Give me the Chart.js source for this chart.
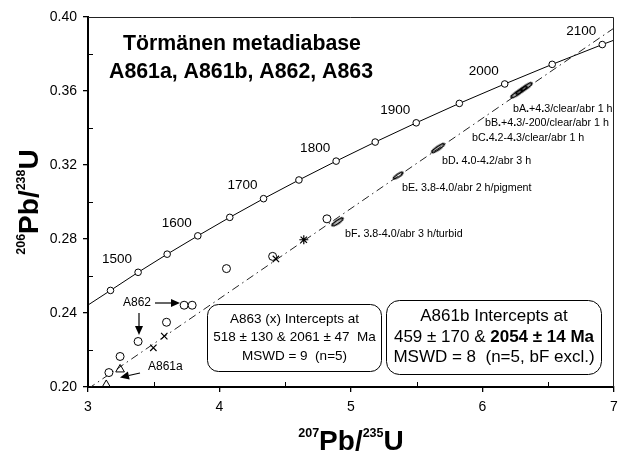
<!DOCTYPE html>
<html><head><meta charset="utf-8">
<script src="https://cdn.jsdelivr.net/npm/chart.js@4/dist/chart.umd.min.js"></script>
<style>html,body{margin:0;padding:0;background:#fff}#wrap{width:620px;height:452px;position:relative}</style>
</head><body><div id="wrap"><canvas id="c" width="620" height="452"></canvas></div>
<script>
// ---------- data ----------
const xTicks = [3, 4, 5, 6, 7];
const yTicks = [0.20, 0.24, 0.28, 0.32, 0.36, 0.40];
const xMinor = [3.5, 4.5, 5.5, 6.5];
const yMinor = [0.22, 0.26, 0.30, 0.34, 0.38];

// concordia tick marks (Ma) and their ratios
const concordiaAges = [1450, 1500, 1550, 1600, 1650, 1700, 1750, 1800, 1850, 1900, 1950, 2000, 2050, 2100];
const concordiaX = [3.171, 3.381, 3.602, 3.835, 4.078, 4.335, 4.604, 4.887, 5.184, 5.496, 5.824, 6.169, 6.530, 6.911];
const concordiaY = [0.2522, 0.2620, 0.2718, 0.2817, 0.2917, 0.3018, 0.3119, 0.3221, 0.3324, 0.3428, 0.3533, 0.3638, 0.3744, 0.3851];
const concordiaEndX = [3.000, 7.000];
const concordiaEndY = [0.2443, 0.3875];
const labeledAges = [1500, 1600, 1700, 1800, 1900, 2000, 2100];

// discordia line
const discordiaX = [3.0, 7.0];
const discordiaY = [0.1990, 0.3940];

// A862 (open circles)
const a862X = [3.159, 3.244, 3.381, 3.597, 3.731, 3.792, 4.053, 4.404, 4.817];
const a862Y = [0.2078, 0.2165, 0.2246, 0.2350, 0.2442, 0.2442, 0.2640, 0.2706, 0.2909];
// A861a (triangles)
const a861aX = [3.244, 3.139];
const a861aY = [0.2095, 0.2011];
// A863 (x)
const a863X = [3.497, 3.580, 4.429];
const a863Y = [0.2212, 0.2275, 0.2692];
const a863StarX = [4.641];
const a863StarY = [0.2796];
// A861b fractions (error ellipses)
const a861bNames = ['bA', 'bB', 'bC', 'bD', 'bE', 'bF'];
const a861bX = [6.335, 6.297, 6.259, 5.662, 5.359, 4.898];
const a861bY = [0.3623, 0.3604, 0.3585, 0.3291, 0.3143, 0.2892];
const a861bLabels = ['bA.+4.3/clear/abr 1 h', 'bB.+4.3/-200/clear/abr 1 h', 'bC.4.2-4.3/clear/abr 1 h',
                     'bD. 4.0-4.2/abr 3 h', 'bE. 3.8-4.0/abr 2 h/pigment', 'bF. 3.8-4.0/abr 3 h/turbid'];

// ---------- helpers ----------
const FAM = "'Liberation Sans', Arial, Helvetica, sans-serif";
const pts = (xs, ys) => xs.map((x, i) => ({x: x, y: ys[i]}));

function ellipseCanvas(len, wid) {
  const c = document.createElement('canvas');
  c.width = Math.ceil(len + 4); c.height = Math.ceil(wid + 4);
  const g = c.getContext('2d');
  g.strokeStyle = '#000'; g.lineWidth = 1.6;
  g.beginPath(); g.ellipse(c.width / 2, c.height / 2, len / 2, wid / 2, 0, 0, Math.PI * 2); g.stroke();
  return c;
}
const ellipseStyles = [ellipseCanvas(13, 3.2), ellipseCanvas(13, 3.2), ellipseCanvas(13, 3.2),
                       ellipseCanvas(15, 3.2), ellipseCanvas(11, 3), ellipseCanvas(13, 3.2)];

function drawRich(ctx, segs, x, y, align) {
  let w = 0;
  segs.forEach(s => { ctx.font = s.font; w += ctx.measureText(s.t).width; });
  let cx = align === 'center' ? x - w / 2 : x;
  ctx.textAlign = 'left';
  segs.forEach(s => { ctx.font = s.font; ctx.fillText(s.t, cx, y + (s.dy || 0)); cx += ctx.measureText(s.t).width; });
}
function dottedSegs(text, size) {
  const segs = [];
  text.split(/(\.)/).forEach(p => {
    if (!p) return;
    segs.push({t: p, font: (p === '.' ? 'bold ' : '') + size + 'px ' + FAM});
  });
  return segs;
}
function roundBox(ctx, x1, y1, x2, y2, r) {
  ctx.beginPath();
  ctx.moveTo(x1 + r, y1);
  ctx.arcTo(x2, y1, x2, y2, r);
  ctx.arcTo(x2, y2, x1, y2, r);
  ctx.arcTo(x1, y2, x1, y1, r);
  ctx.arcTo(x1, y1, x2, y1, r);
  ctx.closePath();
  ctx.fillStyle = '#fff'; ctx.fill();
  ctx.strokeStyle = '#000'; ctx.lineWidth = 1; ctx.stroke();
}
function arrow(ctx, x1, y1, x2, y2) {
  const a = Math.atan2(y2 - y1, x2 - x1), hl = 9, hw = 4;
  const bx = x2 - hl * Math.cos(a), by = y2 - hl * Math.sin(a);
  ctx.strokeStyle = '#000'; ctx.lineWidth = 1.2;
  ctx.beginPath(); ctx.moveTo(x1, y1); ctx.lineTo(bx, by); ctx.stroke();
  ctx.fillStyle = '#000';
  ctx.beginPath(); ctx.moveTo(x2, y2);
  ctx.lineTo(bx + hw * Math.sin(a), by - hw * Math.cos(a));
  ctx.lineTo(bx - hw * Math.sin(a), by + hw * Math.cos(a));
  ctx.closePath(); ctx.fill();
}
function axisTitle(ctx, parts, cx, cy, rot) {
  const big = 'bold 28px ' + FAM, small = 'bold 12.5px ' + FAM;
  let w = 0;
  parts.forEach(p => { ctx.font = p.sup ? small : big; w += ctx.measureText(p.t).width; });
  ctx.save();
  ctx.translate(cx, cy); ctx.rotate(rot);
  ctx.fillStyle = '#000'; ctx.textBaseline = 'alphabetic'; ctx.textAlign = 'left';
  let x = -w / 2;
  parts.forEach(p => {
    ctx.font = p.sup ? small : big;
    ctx.fillText(p.t, x, p.sup ? -3 : 10);
    x += ctx.measureText(p.t).width;
  });
  ctx.restore();
}

const deco = {
  id: 'deco',
  afterDatasetsDraw(chart) {
    const ctx = chart.ctx, xs = chart.scales.x, ys = chart.scales.y, a = chart.chartArea;
    ctx.save();
    // frame top/right
    ctx.strokeStyle = '#222'; ctx.lineWidth = 1;
    ctx.beginPath(); ctx.moveTo(a.left, a.top + 0.5); ctx.lineTo(a.right - 0.5, a.top + 0.5); ctx.lineTo(a.right - 0.5, a.bottom); ctx.stroke();
    // minor ticks (inside)
    ctx.strokeStyle = '#000'; ctx.lineWidth = 1;
    xMinor.forEach(v => { const p = Math.round(xs.getPixelForValue(v)) + 0.5; ctx.beginPath(); ctx.moveTo(p, a.bottom); ctx.lineTo(p, a.bottom - 5); ctx.stroke(); });
    yMinor.forEach(v => { const p = Math.round(ys.getPixelForValue(v)) + 0.5; ctx.beginPath(); ctx.moveTo(a.left, p); ctx.lineTo(a.left + 5, p); ctx.stroke(); });

    ctx.fillStyle = '#000';
    ctx.textBaseline = 'middle';
    // title
    ctx.textAlign = 'center';
    ctx.font = 'bold 21.3px ' + FAM;
    ctx.fillText('Törmänen metadiabase', 242, 44);
    ctx.fillText('A861a, A861b, A862, A863', 241, 72);
    // concordia age labels
    ctx.font = '13.5px ' + FAM;
    labeledAges.forEach(age => {
      const i = concordiaAges.indexOf(age);
      const px = xs.getPixelForValue(concordiaX[i]), py = ys.getPixelForValue(concordiaY[i]);
      ctx.fillText(String(age), px - 21, py - 13);
    });
    // fraction labels
    const labPos = [[513, 109], [485, 123.5], [472, 138], [442, 161], [402, 188.5], [345, 234]];
    a861bLabels.forEach((t, i) => drawRich(ctx, dottedSegs(t, 10.7), labPos[i][0], labPos[i][1], 'left'));
    // sample labels + arrows
    ctx.textAlign = 'center';
    ctx.font = '12px ' + FAM;
    ctx.fillText('A862', 137, 303);
    ctx.textAlign = 'left';
    ctx.fillText('A861a', 148, 367);
    arrow(ctx, 155, 303, 180, 303);
    arrow(ctx, 139, 313, 139, 335);
    arrow(ctx, 140, 373, 120, 377.5);
    // boxes
    roundBox(ctx, 207.5, 304.5, 381.5, 371.5, 11);
    ctx.fillStyle = '#000'; ctx.textAlign = 'center';
    ctx.font = '13.5px ' + FAM;
    ctx.fillText('A863 (x) Intercepts at', 294.5, 319);
    ctx.fillText('518 ± 130 & 2061 ± 47  Ma', 294.5, 337.5);
    ctx.fillText('MSWD = 9  (n=5)', 294.5, 356);
    roundBox(ctx, 386.5, 300.5, 601.5, 374.5, 13);
    ctx.fillStyle = '#000';
    ctx.font = '17px ' + FAM;
    ctx.fillText('A861b Intercepts at', 494, 316);
    drawRich(ctx, [{t: '459 ± 170 & ', font: '17px ' + FAM}, {t: '2054 ± 14 Ma', font: 'bold 17px ' + FAM}], 494, 337, 'center');
    ctx.textAlign = 'center';
    ctx.font = '17px ' + FAM;
    ctx.fillText('MSWD = 8  (n=5, bF excl.)', 494, 357);
    // axis titles
    axisTitle(ctx, [{t: '207', sup: true}, {t: 'Pb/'}, {t: '235', sup: true}, {t: 'U'}], (a.left + a.right) / 2, 440, 0);
    axisTitle(ctx, [{t: '206', sup: true}, {t: 'Pb/'}, {t: '238', sup: true}, {t: 'U'}], 28, (a.top + a.bottom) / 2, -Math.PI / 2);
    ctx.restore();
  }
};

const concordiaLine = pts([concordiaEndX[0]].concat(concordiaX, [concordiaEndX[1]]),
                          [concordiaEndY[0]].concat(concordiaY, [concordiaEndY[1]]));

new Chart(document.getElementById('c'), {
  type: 'scatter',
  data: {datasets: [
    {label: 'A861b', data: pts(a861bX, a861bY), pointStyle: ellipseStyles, rotation: -34.4, pointRadius: 3, order: 1},
    {label: 'A863', data: pts(a863X, a863Y), pointStyle: 'crossRot', pointRadius: 4.5, borderColor: '#000', borderWidth: 1.2, order: 1},
    {label: 'A863b', data: pts(a863StarX, a863StarY), pointStyle: 'star', pointRadius: 4.5, borderColor: '#000', borderWidth: 1.2, order: 1},
    {label: 'A861a', data: pts(a861aX, a861aY), pointStyle: 'triangle', pointRadius: 5, backgroundColor: 'rgba(255,255,255,0)', borderColor: '#000', borderWidth: 1, order: 1},
    {label: 'A862', data: pts(a862X, a862Y), pointStyle: 'circle', pointRadius: 4, backgroundColor: '#fff', borderColor: '#000', borderWidth: 1, order: 1},
    {label: 'ages', data: pts(concordiaX, concordiaY), pointStyle: 'circle', pointRadius: 3.3, backgroundColor: '#fff', borderColor: '#000', borderWidth: 1, order: 0},
    {label: 'concordia', data: concordiaLine, showLine: true, pointRadius: 0, borderColor: '#000', borderWidth: 1, order: 5},
    {label: 'discordia', data: pts(discordiaX, discordiaY), showLine: true, pointRadius: 0, borderColor: '#222', borderWidth: 1, borderDash: [8, 4, 1.5, 4], order: 5}
  ]},
  options: {
    responsive: false, animation: false, events: [],
    layout: {padding: {top: 17, right: 3, left: 0, bottom: 0}},
    plugins: {legend: {display: false}, tooltip: {enabled: false}, title: {display: false}},
    scales: {
      x: {
        type: 'linear', min: 3, max: 7,
        afterBuildTicks: s => { s.ticks = xTicks.map(v => ({value: v})); },
        afterFit: s => { s.height = 65; s.paddingLeft = 0; s.paddingRight = 0; },
        ticks: {font: {family: FAM, size: 14}, color: '#000', padding: 7, maxRotation: 0, autoSkip: false, callback: v => String(v)},
        grid: {drawOnChartArea: false, tickLength: 5, color: '#000', lineWidth: 1.3},
        border: {color: '#000', width: 2}
      },
      y: {
        type: 'linear', min: 0.20, max: 0.40,
        afterBuildTicks: s => { s.ticks = yTicks.map(v => ({value: v})); },
        afterFit: s => { s.width = 88; s.paddingTop = 0; s.paddingBottom = 0; },
        ticks: {font: {family: FAM, size: 14}, color: '#000', padding: 6, autoSkip: false, callback: v => Number(v).toFixed(2)},
        grid: {drawOnChartArea: false, tickLength: 5, color: '#000', lineWidth: 1.3},
        border: {color: '#000', width: 2}
      }
    }
  },
  plugins: [deco]
});
</script>
</body></html>
